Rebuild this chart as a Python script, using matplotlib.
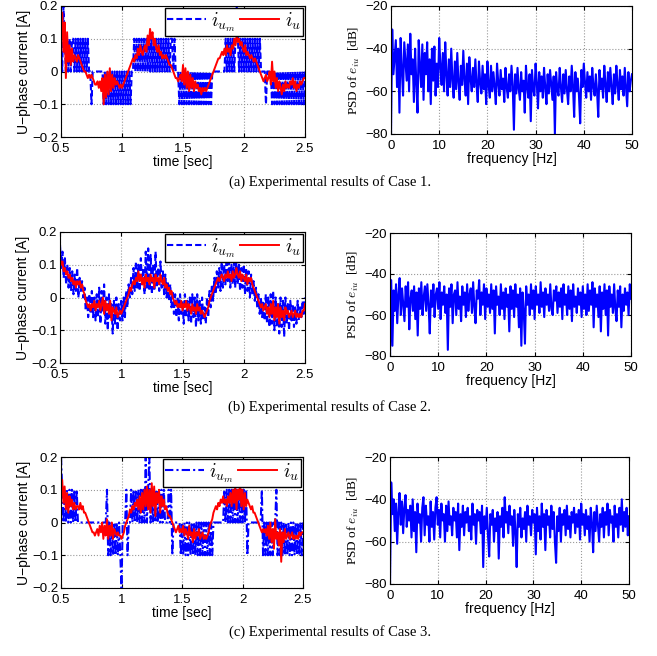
import numpy as np
import matplotlib
matplotlib.use("Agg")
import matplotlib.pyplot as plt

plt.rcParams['font.family'] = ['Liberation Sans', 'DejaVu Sans']
plt.rcParams['mathtext.fontset'] = 'cm'

# time axis of the current plots [sec]
t_start, t_step = 0.5, 0.01

# measured current i_um, quantised: '0'=-0.2, '1'=-0.1, '2'=0, '3'=0.1, '4'=0.2
ium_case1 = ("3243232323" "3232323232" "3232212222" "2222212121" "2121212121"
             "2121212122" "3232323232" "3232323232" "3232323232" "3323222121"
             "2121212121" "2121212121" "2121222222" "2222232323" "2323432323"
             "2323232323" "2323222212" "2221212121" "2121212121" "2121212121" "2")
ium_case3 = ("4323232323" "2323222222" "2222222222" "2222222231" "2121212121"
             "0222312232" "3232323232" "4234232323" "2323232223" "2312222221"
             "2121212121" "2121212121" "2121212222" "2222232323" "2323232323"
             "2323122222" "2222223121" "2121212231" "2121212121" "2121212121" "2")

ium_case2 = [0.16, 0.09, 0.14, 0.06, 0.12, 0.04, 0.10, 0.03, 0.09, 0.02,
             0.08, 0.01, 0.07, 0.02, 0.09, 0.00, 0.06, 0.02, 0.05, 0.00,
             0.03, -0.04, 0.00, -0.06, 0.01, -0.05, 0.02, -0.06, 0.00, -0.07,
             0.01, -0.06, 0.03, -0.08, 0.02, -0.04, 0.04, -0.08, 0.00, -0.10,
             0.01, -0.06, -0.02, -0.11, -0.01, -0.08, 0.00, -0.10, -0.02, -0.07,
             -0.01, -0.07, 0.00, -0.06, 0.02, -0.03, 0.04, 0.00, 0.06, 0.01,
             0.09, 0.02, 0.11, 0.03, 0.10, 0.02, 0.12, 0.04, 0.09, 0.01,
             0.14, 0.03, 0.15, 0.02, 0.13, 0.01, 0.10, 0.02, 0.14, 0.03,
             0.09, 0.02, 0.11, 0.03, 0.08, 0.01, 0.07, 0.00, 0.05, -0.01,
             0.04, -0.03, 0.02, -0.05, 0.01, -0.06, 0.00, -0.07, 0.01, -0.05,
             -0.01, -0.08, 0.01, -0.06, -0.01, -0.07, 0.00, -0.08, 0.01, -0.06,
             0.00, -0.09, 0.01, -0.07, -0.01, -0.08, 0.00, -0.07, -0.03, -0.08,
             0.00, -0.06, 0.02, -0.03, 0.04, -0.01, 0.06, 0.01, 0.08, 0.03,
             0.09, 0.02, 0.11, 0.03, 0.10, 0.04, 0.12, 0.05, 0.11, 0.03,
             0.10, 0.04, 0.11, 0.03, 0.12, 0.04, 0.10, 0.02, 0.09, 0.03,
             0.10, 0.01, 0.09, 0.02, 0.08, 0.00, 0.07, 0.01, 0.05, -0.01,
             0.03, -0.03, 0.01, -0.05, 0.00, -0.06, -0.01, -0.07, 0.01, -0.08,
             0.00, -0.09, 0.01, -0.08, 0.02, -0.10, 0.00, -0.09, -0.02, -0.11,
             0.00, -0.09, -0.01, -0.12, 0.00, -0.08, -0.02, -0.10, -0.01, -0.07,
             -0.02, -0.09, -0.03, -0.08, -0.01, -0.07, -0.03, -0.06, -0.01, -0.05,
             0.00]

# actual current i_u [A]
iu_case1 = [0.10, 0.18, 0.06, 0.15, -0.02, 0.12, 0.03, 0.08, 0.02, 0.07,
            0.03, 0.05, 0.04, 0.03, 0.05, 0.04, 0.03, 0.02, 0.01, 0.00,
            0.00, -0.01, -0.02, -0.01, -0.02, -0.01, -0.02, -0.03, -0.04, -0.04,
            -0.03, -0.05, -0.03, -0.06, -0.02, -0.10, -0.01, -0.08, 0.00, -0.07,
            0.01, -0.06, -0.01, -0.05, -0.02, -0.04, -0.03, -0.04, -0.05, -0.04,
            -0.05, -0.04, -0.03, -0.02, -0.01, 0.00, 0.01, 0.02, 0.03, 0.04,
            0.03, 0.05, 0.04, 0.07, 0.05, 0.08, 0.06, 0.05, 0.07, 0.08,
            0.06, 0.11, 0.08, 0.13, 0.10, 0.12, 0.08, 0.10, 0.07, 0.06,
            0.08, 0.05, 0.06, 0.04, 0.05, 0.04, 0.05, 0.04, 0.03, 0.02,
            0.02, 0.01, 0.00, -0.01, -0.02, -0.02, -0.03, -0.02, -0.01, -0.03,
            0.02, -0.04, 0.01, -0.05, 0.00, -0.06, -0.01, -0.05, -0.02, -0.06,
            -0.03, -0.05, -0.04, -0.06, -0.05, -0.07, -0.05, -0.06, -0.05, -0.06,
            -0.05, -0.04, -0.03, -0.02, -0.01, 0.00, 0.01, 0.02, 0.03, 0.04,
            0.04, 0.05, 0.06, 0.05, 0.07, 0.05, 0.08, 0.06, 0.07, 0.05,
            0.08, 0.07, 0.10, 0.08, 0.11, 0.09, 0.10, 0.08, 0.09, 0.07,
            0.06, 0.08, 0.05, 0.06, 0.05, 0.04, 0.05, 0.04, 0.03, 0.04,
            0.03, 0.02, 0.01, 0.00, -0.01, -0.02, -0.03, -0.02, -0.01, -0.03,
            -0.02, 0.00, -0.04, 0.03, -0.03, 0.00, -0.05, -0.02, -0.06, -0.03,
            -0.05, -0.07, -0.04, -0.06, -0.03, -0.05, -0.04, -0.05, -0.03, -0.04,
            -0.02, -0.05, -0.03, -0.06, -0.04, -0.05, -0.03, -0.04, -0.03, -0.02,
            -0.02]
iu_case2 = [0.12, 0.10, 0.11, 0.08, 0.09, 0.07, 0.08, 0.06, 0.07, 0.05,
            0.06, 0.04, 0.05, 0.03, 0.05, 0.04, 0.05, 0.03, 0.04, 0.02,
            0.01, -0.01, -0.02, -0.03, -0.02, -0.04, -0.02, -0.03, -0.01, -0.04,
            -0.02, -0.03, -0.01, -0.04, -0.02, 0.00, -0.05, -0.01, -0.04, -0.02,
            -0.05, -0.01, -0.07, -0.03, -0.04, -0.05, -0.03, -0.06, -0.05, -0.04,
            -0.05, -0.04, -0.03, -0.02, -0.01, 0.00, 0.01, 0.03, 0.02, 0.04,
            0.05, 0.04, 0.06, 0.05, 0.08, 0.05, 0.07, 0.04, 0.06, 0.03,
            0.07, 0.05, 0.06, 0.04, 0.07, 0.05, 0.06, 0.03, 0.07, 0.05,
            0.06, 0.04, 0.07, 0.05, 0.04, 0.06, 0.03, 0.04, 0.02, 0.03,
            0.01, 0.02, 0.00, -0.01, -0.02, -0.01, -0.03, -0.02, -0.03, -0.01,
            -0.04, -0.02, -0.03, -0.01, -0.04, -0.02, -0.03, -0.05, -0.02, -0.04,
            -0.03, -0.05, -0.02, -0.04, -0.03, -0.05, -0.04, -0.05, -0.06, -0.05,
            -0.04, -0.03, -0.01, 0.00, 0.01, 0.02, 0.03, 0.04, 0.05, 0.06,
            0.05, 0.06, 0.07, 0.06, 0.05, 0.07, 0.06, 0.08, 0.06, 0.07,
            0.05, 0.08, 0.06, 0.07, 0.09, 0.07, 0.06, 0.08, 0.05, 0.07,
            0.06, 0.05, 0.07, 0.04, 0.06, 0.05, 0.06, 0.04, 0.03, 0.02,
            0.01, 0.00, -0.01, -0.02, -0.03, -0.02, -0.04, -0.03, -0.02, -0.05,
            -0.03, -0.06, -0.02, -0.05, -0.01, -0.07, -0.03, -0.06, -0.02, -0.08,
            -0.03, -0.06, -0.04, -0.07, -0.03, -0.05, -0.04, -0.06, -0.05, -0.04,
            -0.06, -0.05, -0.04, -0.06, -0.05, -0.06, -0.05, -0.06, -0.04, -0.04,
            -0.02]
iu_case3 = [0.08, 0.13, 0.06, 0.11, 0.04, 0.09, 0.03, 0.08, 0.05, 0.07,
            0.04, 0.06, 0.04, 0.05, 0.05, 0.04, 0.06, 0.04, 0.05, 0.03,
            0.03, 0.02, 0.01, 0.00, -0.01, -0.02, -0.03, -0.03, -0.04, -0.03,
            -0.02, -0.04, -0.01, -0.03, 0.00, -0.05, -0.01, -0.04, 0.01, -0.05,
            -0.01, -0.04, 0.00, -0.05, -0.02, -0.03, -0.04, -0.03, -0.04, -0.04,
            -0.05, -0.04, -0.03, -0.01, 0.00, 0.01, 0.02, 0.04, 0.03, 0.05,
            0.04, 0.06, 0.05, 0.07, 0.04, 0.08, 0.03, 0.09, 0.04, 0.10,
            0.05, 0.11, 0.04, 0.10, 0.03, 0.12, 0.05, 0.11, 0.02, 0.09,
            0.06, 0.10, 0.03, 0.08, 0.05, 0.07, 0.04, 0.05, 0.03, 0.02,
            0.02, 0.01, 0.00, -0.01, -0.02, -0.03, -0.02, -0.01, -0.03, -0.02,
            -0.03, -0.01, -0.04, -0.02, -0.03, -0.05, -0.01, -0.04, -0.03, -0.06,
            -0.02, -0.05, -0.03, -0.04, -0.02, -0.05, -0.04, -0.03, -0.05, -0.04,
            -0.05, -0.04, -0.03, -0.01, 0.00, 0.01, 0.03, 0.04, 0.05, 0.04,
            0.06, 0.05, 0.07, 0.06, 0.08, 0.06, 0.07, 0.05, 0.08, 0.06,
            0.09, 0.05, 0.10, 0.06, 0.11, 0.04, 0.10, 0.07, 0.12, 0.05,
            0.10, 0.04, 0.09, 0.05, 0.07, 0.06, 0.05, 0.04, 0.05, 0.03,
            0.03, 0.02, 0.01, 0.00, -0.01, -0.02, -0.03, -0.02, -0.03, -0.02,
            -0.04, -0.01, -0.05, 0.00, -0.06, -0.02, -0.08, 0.01, -0.05, -0.03,
            -0.07, -0.02, -0.12, -0.03, -0.06, -0.02, -0.05, -0.04, -0.03, -0.05,
            -0.04, -0.03, -0.05, -0.04, -0.05, -0.04, -0.05, -0.03, -0.04, -0.03,
            -0.03]

# PSD of the current error [dB], 0 .. 50 Hz every 0.25 Hz
f_step = 0.25
psd_case1 = [-80, -31, -52, -44, -36, -58, -40, -70, -35, -50, -62, -37, -46, -55, -38, -60, -33, -52, -45, -65,
             -40, -56, -70, -36, -48, -58, -38, -64, -42, -52, -37, -60, -45, -66, -40, -55, -39, -62, -47, -58,
             -35, -48, -57, -42, -60, -37, -52, -62, -45, -58, -40, -55, -63, -46, -59, -42, -56, -64, -48, -57,
             -41, -55, -62, -47, -66, -44, -54, -60, -49, -58, -45, -57, -65, -46, -56, -61, -48, -59, -52, -66,
             -46, -57, -63, -48, -60, -51, -58, -66, -47, -56, -62, -50, -59, -54, -65, -49, -58, -63, -52, -60,
             -48, -57, -78, -52, -61, -49, -59, -64, -51, -60, -55, -70, -48, -58, -63, -52, -74, -50, -59, -62,
             -47, -56, -68, -51, -60, -53, -63, -49, -58, -66, -52, -61, -50, -57, -64, -53, -80, -51, -59, -62,
             -49, -58, -65, -52, -61, -50, -59, -66, -53, -60, -48, -57, -72, -51, -60, -54, -62, -75, -50, -58,
             -47, -56, -63, -51, -60, -53, -64, -49, -58, -62, -52, -60, -72, -50, -59, -54, -63, -48, -57, -65,
             -51, -60, -49, -58, -66, -52, -61, -48, -57, -64, -50, -59, -53, -62, -49, -58, -67, -51, -60, -55,
             -52]
psd_case2 = [-80, -43, -75, -48, -58, -45, -64, -50, -42, -60, -47, -55, -63, -46, -56, -44, -67, -52, -48, -58,
             -46, -62, -49, -70, -47, -57, -44, -60, -51, -46, -58, -45, -55, -69, -48, -56, -45, -61, -50, -47,
             -57, -44, -62, -49, -55, -46, -59, -50, -77, -47, -56, -45, -64, -50, -48, -60, -44, -57, -51, -63,
             -46, -55, -49, -61, -45, -58, -50, -47, -59, -44, -56, -64, -48, -52, -43, -60, -49, -55, -45, -62,
             -47, -56, -50, -59, -45, -57, -48, -69, -46, -55, -51, -60, -45, -57, -49, -62, -47, -56, -50, -68,
             -46, -57, -48, -61, -45, -56, -50, -66, -47, -75, -49, -58, -74, -46, -55, -50, -60, -45, -57, -48,
             -62, -46, -55, -50, -59, -44, -56, -49, -61, -47, -55, -50, -58, -45, -57, -60, -48, -53, -46, -59,
             -49, -56, -47, -62, -45, -55, -50, -60, -46, -57, -48, -63, -45, -56, -51, -59, -47, -55, -49, -61,
             -46, -57, -50, -60, -45, -58, -48, -55, -44, -66, -47, -56, -50, -61, -46, -68, -49, -57, -45, -60,
             -48, -70, -46, -56, -50, -59, -45, -57, -63, -48, -56, -46, -66, -50, -58, -47, -55, -49, -60, -45,
             -52]
psd_case3 = [-80, -32, -47, -40, -55, -42, -61, -46, -37, -52, -41, -56, -44, -38, -53, -45, -50, -43, -58, -40,
             -55, -46, -65, -42, -51, -47, -60, -44, -39, -57, -43, -52, -48, -60, -41, -53, -46, -59, -44, -39,
             -52, -45, -58, -42, -50, -47, -60, -43, -55, -41, -52, -48, -57, -44, -50, -46, -58, -42, -64, -47,
             -53, -43, -57, -46, -51, -44, -55, -48, -59, -42, -52, -47, -61, -45, -50, -46, -56, -43, -72, -48,
             -54, -44, -57, -67, -47, -52, -45, -60, -49, -55, -46, -68, -48, -53, -44, -58, -39, -51, -46, -56,
             -43, -52, -48, -62, -45, -55, -72, -47, -53, -44, -58, -49, -54, -46, -60, -43, -52, -48, -57, -45,
             -51, -47, -66, -44, -55, -48, -59, -42, -53, -47, -64, -45, -52, -48, -58, -43, -54, -46, -60, -70,
             -48, -55, -44, -60, -47, -52, -45, -57, -43, -54, -48, -58, -46, -51, -44, -56, -47, -53, -45, -59,
             -42, -52, -47, -57, -45, -54, -48, -60, -44, -51, -65, -46, -55, -43, -52, -60, -47, -53, -44, -58,
             -46, -52, -42, -57, -45, -51, -48, -60, -43, -53, -47, -58, -44, -52, -40, -55, -46, -53, -44, -57,
             -48]

captions = ["(a) Experimental results of Case 1.",
            "(b) Experimental results of Case 2.",
            "(c) Experimental results of Case 3."]


def quantised(code):
    return [(int(c) - 2) * 0.1 for c in code]


def style_axes(ax):
    ax.tick_params(direction='in', top=True, right=True, labelsize=9.5, length=3)
    ax.tick_params(axis='x', pad=4)
    ax.tick_params(axis='y', pad=2)
    ax.grid(True, linestyle=':', color='#999999', linewidth=0.8)
    for s in ax.spines.values():
        s.set_linewidth(0.8)


def fmt(v):
    s = ('%g' % v)
    return s.replace('-', '\u2212')


fig = plt.figure(figsize=(6.57, 6.56), dpi=100)
W, H = 657.0, 656.0


def add_axes(x0, x1, y0, y1):
    return fig.add_axes([x0 / W, 1 - y1 / H, (x1 - x0) / W, (y1 - y0) / H])


left_boxes = [(61, 305, 6, 137), (60, 305, 232, 363), (61, 303, 457, 588)]
right_boxes = [(391, 632, 6, 134), (390, 631, 233, 356), (390, 629, 457, 584)]
ium_all = [quantised(ium_case1), ium_case2, quantised(ium_case3)]
iu_all = [iu_case1, iu_case2, iu_case3]
psd_all = [psd_case1, psd_case2, psd_case3]
blue_styles = [(0, (3, 1.5)), (0, (3, 1.5)), (0, (4, 1.5, 1, 1.5))]
caption_y = [182, 407, 632]

for k in range(3):
    # current plot
    ax = add_axes(*left_boxes[k])
    t = t_start + t_step * np.arange(len(iu_all[k]))
    ax.plot(t, ium_all[k], color='blue', linestyle=blue_styles[k], linewidth=1.5, label='$i_{u_m}$')
    ax.plot(t, iu_all[k], color='red', linewidth=1.4, label='$i_u$')
    ax.set_xlim(0.5, 2.5)
    ax.set_ylim(-0.2, 0.2)
    xt = [0.5, 1, 1.5, 2, 2.5]
    yt = [-0.2, -0.1, 0, 0.1, 0.2]
    ax.set_xticks(xt)
    ax.set_xticklabels([fmt(v) for v in xt])
    ax.set_yticks(yt)
    ax.set_yticklabels([fmt(v) for v in yt])
    style_axes(ax)
    ax.set_xlabel('time [sec]', fontsize=10, labelpad=0)
    ax.set_ylabel('U\u2212phase current [A]', fontsize=10, labelpad=1)
    leg = ax.legend(loc='upper right', ncol=2, fontsize=14, handlelength=2.0,
                    columnspacing=0.2, handletextpad=0.3, borderaxespad=0.12,
                    borderpad=0.1, fancybox=False, framealpha=1)
    leg.get_frame().set_edgecolor('black')
    leg.get_frame().set_linewidth(1.0)

    # PSD plot
    ax2 = add_axes(*right_boxes[k])
    f = f_step * np.arange(len(psd_all[k]))
    ax2.plot(f, psd_all[k], color='blue', linewidth=1.5)
    ax2.set_xlim(0, 50)
    ax2.set_ylim(-80, -20)
    ax2.set_xticks([0, 10, 20, 30, 40, 50])
    yt2 = [-80, -60, -40, -20]
    ax2.set_yticks(yt2)
    ax2.set_yticklabels([fmt(v) for v in yt2])
    style_axes(ax2)
    ax2.set_xlabel('frequency [Hz]', fontsize=10, labelpad=0)
    ax2.set_ylabel('PSD of $e_{iu}$  [dB]', fontsize=9.5, family='Liberation Serif', labelpad=3)

    fig.text(330 / W, 1 - caption_y[k] / H, captions[k], ha='center', va='center',
             fontsize=10.5, family='Liberation Serif')

fig.savefig('out.png', dpi=100)
